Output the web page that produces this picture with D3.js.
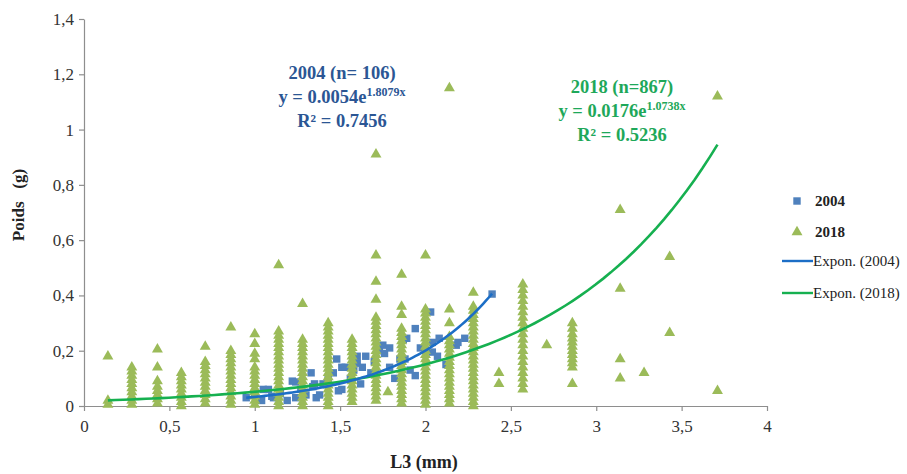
<!DOCTYPE html>
<html><head><meta charset="utf-8">
<script src="https://cdn.jsdelivr.net/npm/d3@7"></script>
<style>body{margin:0;background:#fff}svg{display:block}</style>
</head><body><svg id="c" width="907" height="474"></svg>
<script>
const xTicks = [0, 0.5, 1, 1.5, 2, 2.5, 3, 3.5, 4];
const yTicks = [0, 0.2, 0.4, 0.6, 0.8, 1, 1.2, 1.4];

// 2004 series (L3 mm, Poids g)
const x2004 = [0.95,1.00,1.04,1.05,1.08,1.10,1.11,1.15,1.19,1.22,1.24,1.24,1.27,1.30,1.33,1.34,1.35,1.36,1.38,1.40,1.43,1.46,1.48,1.49,1.51,1.51,1.53,1.56,1.58,1.60,1.60,1.62,1.63,1.65,1.68,1.70,1.73,1.75,1.76,1.79,1.79,1.82,1.85,1.87,1.88,1.89,1.91,1.94,1.94,1.97,2.03,2.04,2.04,2.07,2.08,2.12,2.18,2.19,2.23,2.39];
const y2004 = [0.03,0.04,0.02,0.06,0.06,0.035,0.03,0.045,0.02,0.09,0.03,0.087,0.06,0.04,0.12,0.07,0.08,0.03,0.04,0.08,0.10,0.12,0.17,0.055,0.06,0.14,0.14,0.10,0.13,0.18,0.155,0.08,0.14,0.18,0.12,0.16,0.20,0.22,0.19,0.21,0.14,0.10,0.17,0.24,0.17,0.245,0.13,0.28,0.11,0.21,0.34,0.23,0.195,0.18,0.245,0.15,0.22,0.23,0.245,0.405];

// 2018 series: columns of L3 values and the Poids values in each
const col2018X = [0.14,0.28,0.43,0.57,0.71,0.86,1.0,1.14,1.28,1.43,1.57,1.71,1.78,1.86,2.0,2.14,2.28,2.43,2.57,2.71,2.86,3.14,3.28,3.43,3.71];
const col2018Y = [
  [0.18,0.02,0.005],
  [0.14,0.125,0.11,0.095,0.08,0.065,0.05,0.035,0.02,0.005],
  [0.205,0.14,0.09,0.07,0.055,0.04,0.025,0.01],
  [0.12,0.105,0.09,0.075,0.06,0.045,0.03,0.015,0.0],
  [0.215,0.16,0.145,0.13,0.115,0.10,0.085,0.07,0.055,0.04,0.025,0.01],
  [0.285,0.20,0.185,0.17,0.155,0.14,0.125,0.11,0.095,0.08,0.065,0.05,0.035,0.02,0.005],
  [0.26,0.225,0.19,0.17,0.14,0.125,0.11,0.095,0.08,0.065,0.05,0.035,0.02,0.005],
  [0.51,0.27,0.255,0.24,0.225,0.21,0.195,0.18,0.165,0.15,0.135,0.12,0.105,0.09,0.075,0.06,0.045,0.03,0.015,0.0],
  [0.37,0.24,0.225,0.21,0.195,0.18,0.165,0.15,0.135,0.12,0.105,0.09,0.075,0.06,0.045,0.03,0.015,0.0],
  [0.30,0.285,0.27,0.255,0.24,0.225,0.21,0.195,0.18,0.165,0.15,0.135,0.12,0.105,0.09,0.075,0.06,0.045,0.03,0.015,0.0],
  [0.24,0.225,0.21,0.195,0.18,0.165,0.15,0.135,0.12,0.105,0.09,0.075,0.06,0.045,0.03,0.015],
  [0.91,0.545,0.45,0.385,0.32,0.305,0.29,0.275,0.26,0.245,0.23,0.215,0.20,0.185,0.17,0.155,0.14,0.125,0.11,0.095,0.08,0.065,0.05,0.035,0.02],
  [0.05],
  [0.475,0.36,0.33,0.28,0.265,0.25,0.235,0.22,0.205,0.19,0.175,0.16,0.145,0.13,0.115,0.10,0.085,0.07,0.055,0.04,0.025,0.01],
  [0.545,0.35,0.335,0.32,0.305,0.29,0.275,0.26,0.245,0.23,0.215,0.20,0.185,0.17,0.155,0.14,0.125,0.11,0.095,0.08,0.065,0.05,0.035,0.02,0.005],
  [1.15,0.35,0.30,0.25,0.235,0.22,0.205,0.19,0.175,0.16,0.145,0.13,0.115,0.10,0.085,0.07,0.055,0.04,0.025,0.01],
  [0.41,0.36,0.345,0.33,0.315,0.30,0.285,0.27,0.255,0.24,0.225,0.21,0.195,0.18,0.165,0.15,0.135,0.12,0.105,0.09,0.075,0.06,0.045,0.03,0.015,0.0],
  [0.12,0.08],
  [0.44,0.42,0.40,0.38,0.36,0.34,0.32,0.30,0.28,0.26,0.24,0.22,0.20,0.18,0.16,0.14,0.12,0.10,0.08,0.06],
  [0.22],
  [0.30,0.28,0.26,0.245,0.23,0.215,0.20,0.185,0.17,0.155,0.14,0.08],
  [0.71,0.425,0.17,0.10],
  [0.12],
  [0.54,0.265],
  [1.12,0.055]
];

// Exponential trendlines y = a*e^(b*x)
const fit2004 = [0.0054, 1.8079];
const fitRange2004 = [0.95, 2.39];
const fit2018 = [0.0176, 1.0738];
const fitRange2018 = [0.14, 3.71];

const seriesNames = ["2004", "2018", "Expon. (2004)", "Expon. (2018)"];

const C_SQ = "#4f81bd", C_TRI = "#9bbb59", C_L04 = "#1c6ec6", C_L18 = "#16b050";
const C_T04 = "#2b5694", C_T18 = "#1ea85a";
const serif = "'Liberation Serif','Times New Roman',serif";

const svg = d3.select("#c");
const x = d3.scaleLinear().domain([0, 4]).range([84, 767]);
const y = d3.scaleLinear().domain([0, 1.4]).range([406, 19]);
const fmt = d => String(d).replace(".", ",");

// axes
const gx = svg.append("g").attr("transform", "translate(0,406)")
  .call(d3.axisBottom(x).tickValues(xTicks).tickFormat(fmt).tickSize(5).tickSizeOuter(0));
const gy = svg.append("g").attr("transform", "translate(84,0)")
  .call(d3.axisLeft(y).tickValues(yTicks).tickFormat(fmt).tickSize(5).tickSizeOuter(0));
[gx, gy].forEach(g => {
  g.selectAll("path,line").attr("stroke", "#8e8e8e").attr("stroke-width", 1.2);
  g.selectAll("text").attr("font-family", serif).attr("font-size", 17).attr("fill", "#333");
});
gx.selectAll("text").attr("dy", "1.05em");
gy.selectAll("text").attr("x", -10);

// 2004 squares
const sq = d3.symbol().type(d3.symbolSquare).size(55);
svg.append("g").selectAll("path").data(x2004.map((v, i) => [v, y2004[i]])).join("path")
  .attr("d", sq).attr("fill", C_SQ)
  .attr("transform", d => `translate(${x(d[0])},${y(d[1])})`);

// 2018 triangles
const pts2018 = [];
col2018X.forEach((cx, i) => col2018Y[i].forEach(v => pts2018.push([cx, v])));
const tri = d3.symbol().type(d3.symbolTriangle).size(52);
svg.append("g").selectAll("path").data(pts2018).join("path")
  .attr("d", tri).attr("fill", C_TRI)
  .attr("transform", d => `translate(${x(d[0])},${y(d[1])})`);

// trendlines
function curve(coef, range) {
  const n = 80, out = [];
  for (let k = 0; k <= n; k++) {
    const xv = range[0] + (range[1] - range[0]) * k / n;
    out.push([xv, coef[0] * Math.exp(coef[1] * xv)]);
  }
  return out;
}
const line = d3.line().x(d => x(d[0])).y(d => y(d[1]));
svg.append("path").attr("d", line(curve(fit2018, fitRange2018))).attr("fill", "none")
  .attr("stroke", C_L18).attr("stroke-width", 2.6);
svg.append("path").attr("d", line(curve(fit2004, fitRange2004))).attr("fill", "none")
  .attr("stroke", C_L04).attr("stroke-width", 2.6);

// axis titles
svg.append("text").attr("x", 424).attr("y", 468).attr("text-anchor", "middle")
  .attr("font-family", serif).attr("font-weight", "bold").attr("font-size", 18).attr("fill", "#222")
  .text("L3 (mm)");
svg.append("text").attr("transform", "translate(24,205) rotate(-90)").attr("text-anchor", "middle")
  .attr("font-family", serif).attr("font-weight", "bold").attr("font-size", 17).attr("fill", "#222")
  .attr("xml:space", "preserve").style("white-space", "pre")
  .text("Poids   (g)");

// equations
function eq(cx, ys, color, l1, a, b, r2) {
  const g = svg.append("g").attr("font-family", serif).attr("font-weight", "bold")
    .attr("font-size", 18.5).attr("fill", color).attr("text-anchor", "middle");
  g.append("text").attr("x", cx).attr("y", ys[0]).text(l1);
  const t = g.append("text").attr("x", cx).attr("y", ys[1]);
  t.append("tspan").text("y = " + a + "e");
  t.append("tspan").attr("font-size", 12).attr("dy", -7).text(b + "x");
  g.append("text").attr("x", cx).attr("y", ys[2]).text("R² = " + r2);
}
eq(342, [79, 103, 127], C_T04, "2004 (n= 106)", "0.0054", "1.8079", "0.7456");
eq(622, [93, 117, 141], C_T18, "2018 (n=867)", "0.0176", "1.0738", "0.5236");

// legend
const lg = svg.append("g").attr("font-family", serif).attr("font-size", 15).attr("fill", "#222");
lg.append("path").attr("d", sq).attr("fill", C_SQ).attr("transform", "translate(797,201)");
lg.append("text").attr("x", 815).attr("y", 206).attr("font-weight", "bold").text(seriesNames[0]);
lg.append("path").attr("d", tri).attr("fill", C_TRI).attr("transform", "translate(797,232)");
lg.append("text").attr("x", 815).attr("y", 237).attr("font-weight", "bold").text(seriesNames[1]);
lg.append("line").attr("x1", 782).attr("x2", 813).attr("y1", 261).attr("y2", 261).attr("stroke", C_L04).attr("stroke-width", 2.4);
lg.append("text").attr("x", 813).attr("y", 266).text(seriesNames[2]);
lg.append("line").attr("x1", 782).attr("x2", 813).attr("y1", 293).attr("y2", 293).attr("stroke", C_L18).attr("stroke-width", 2.4);
lg.append("text").attr("x", 813).attr("y", 298).text(seriesNames[3]);
</script></body></html>
